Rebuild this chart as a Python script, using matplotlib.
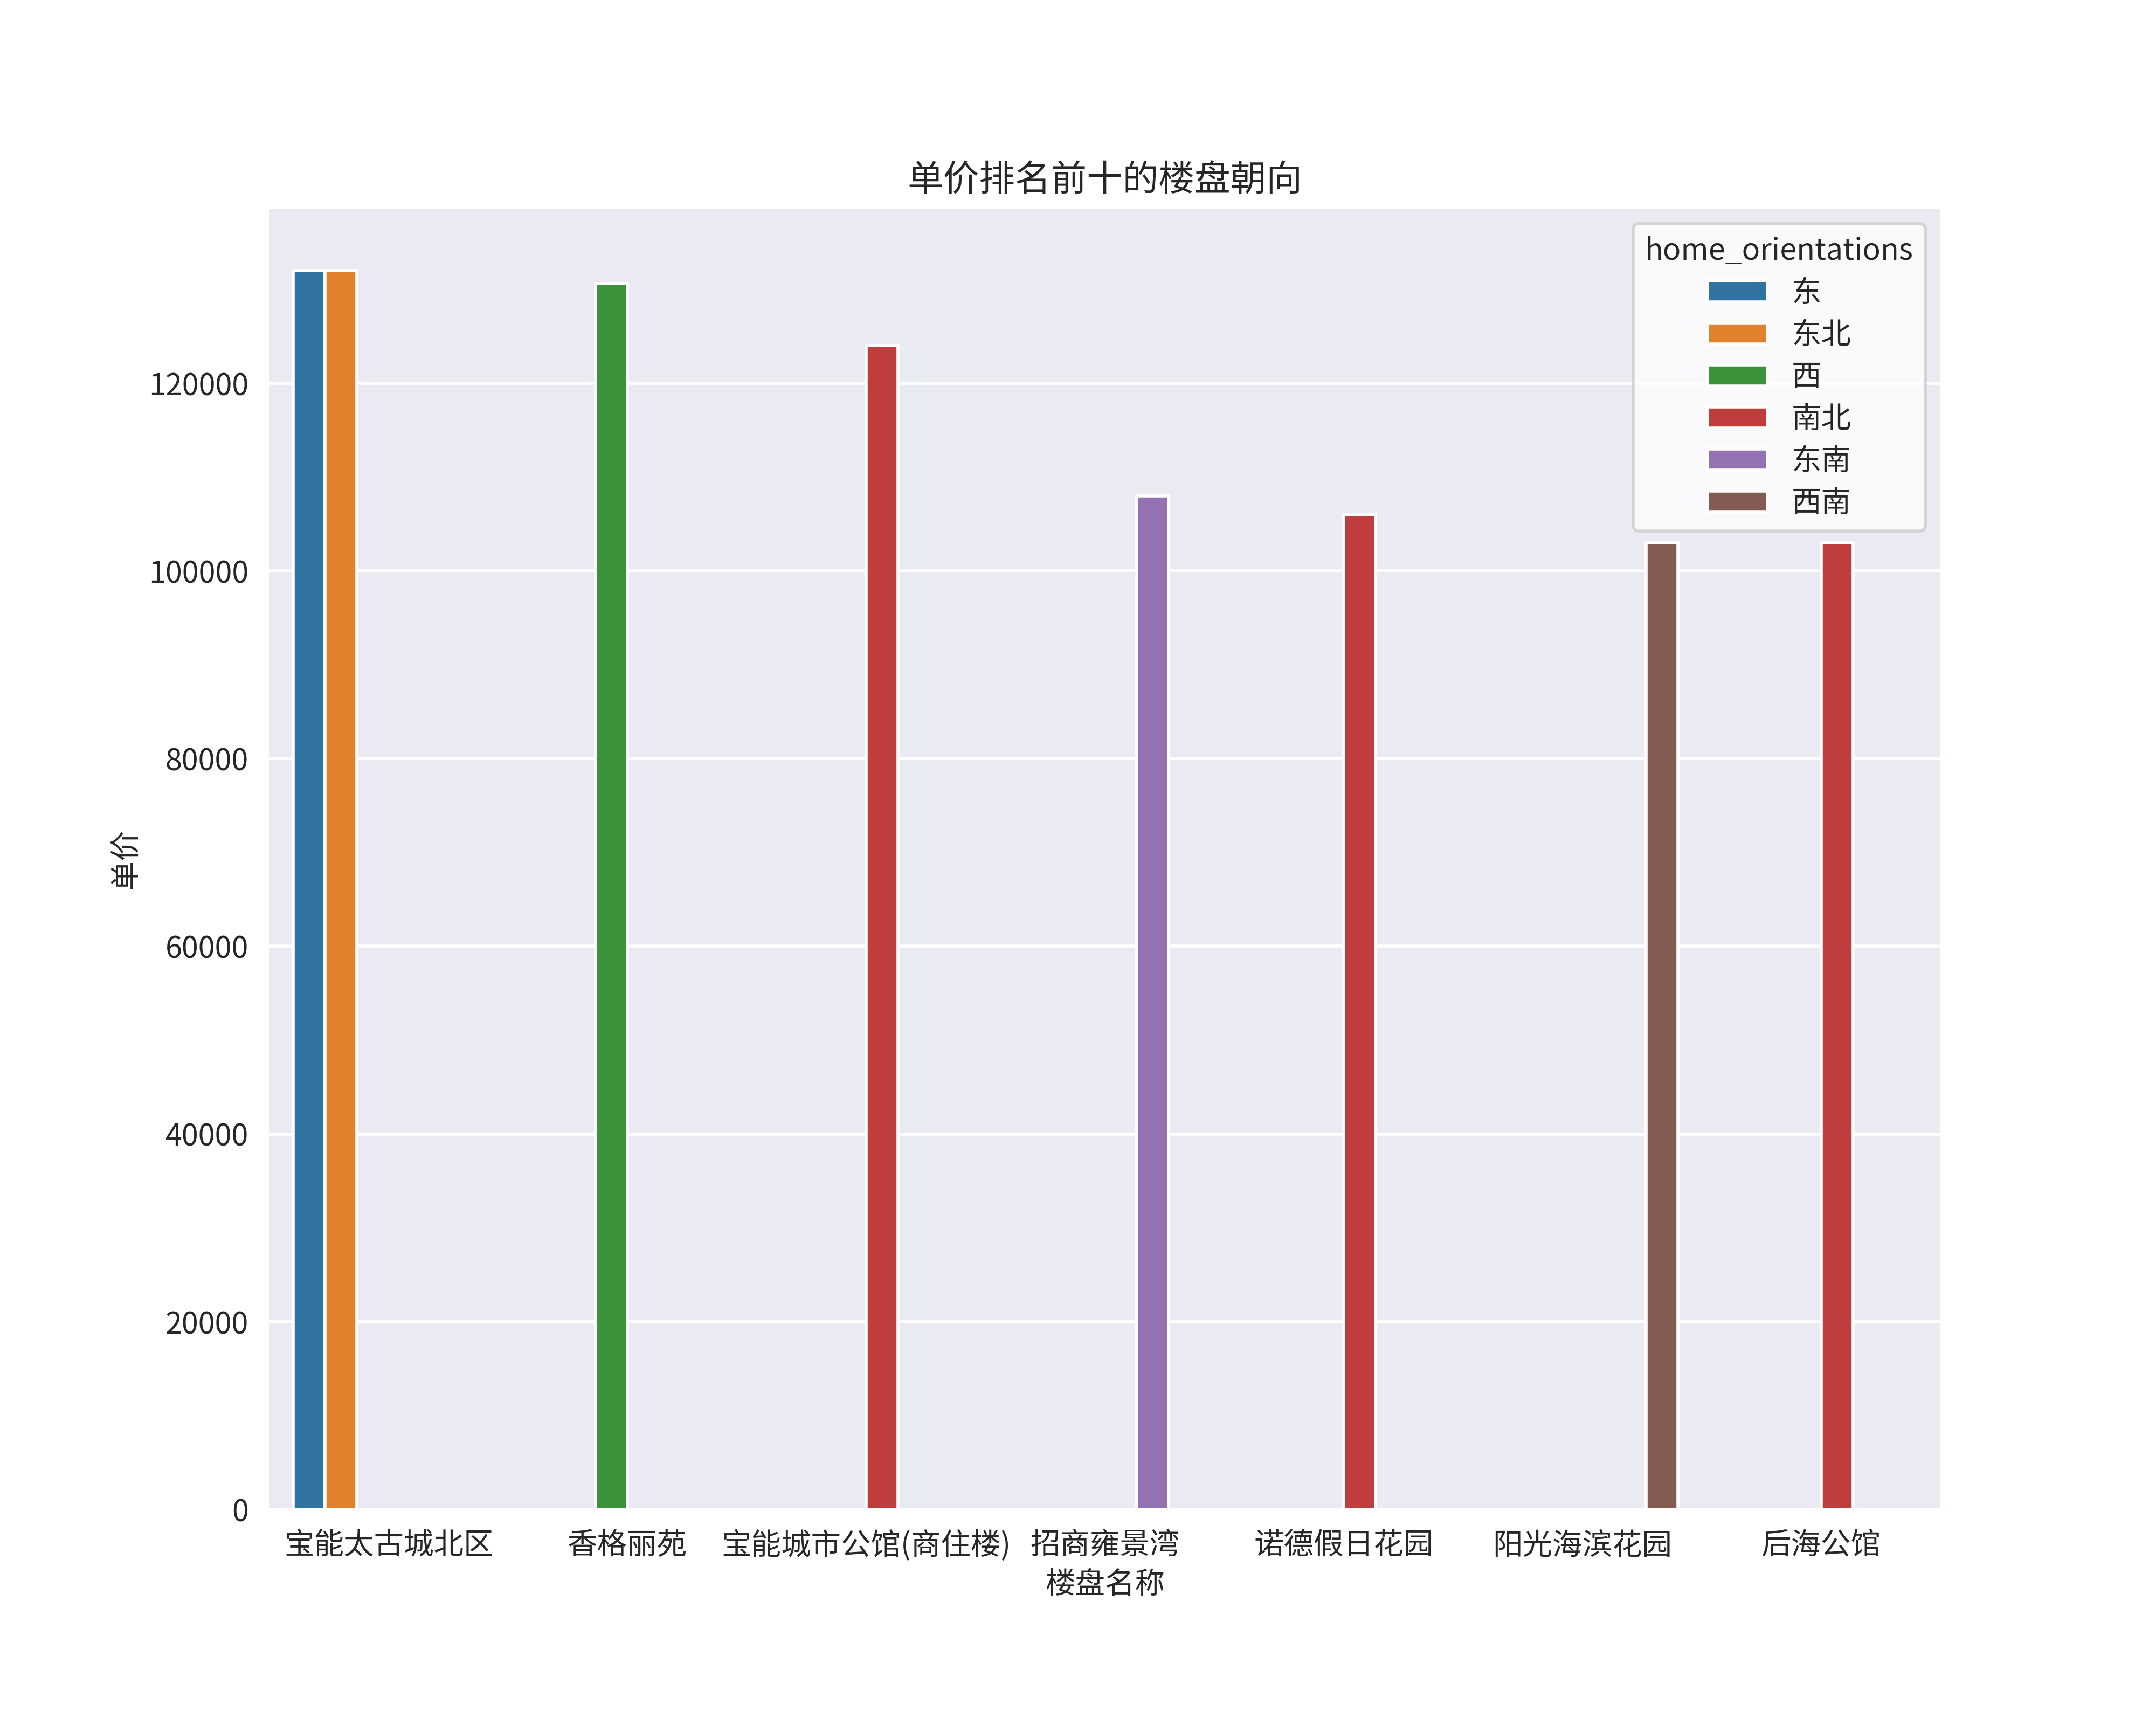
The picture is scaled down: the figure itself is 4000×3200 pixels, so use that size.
import numpy as np
import matplotlib.pyplot as plt
from matplotlib.patches import Patch

plt.rcParams['font.family'] = ['Noto Sans CJK SC', 'DejaVu Sans']
plt.rcParams['axes.unicode_minus'] = False

# data
names = ['宝能太古城北区', '香格丽苑', '宝能城市公馆(商住楼)', '招商雍景湾',
         '诺德假日花园', '阳光海滨花园', '后海公馆']
orientations = ['东', '东北', '西', '南北', '东南', '西南']
bar_name = ['宝能太古城北区', '宝能太古城北区', '香格丽苑', '宝能城市公馆(商住楼)',
            '招商雍景湾', '诺德假日花园', '阳光海滨花园', '后海公馆']
bar_orient = ['东', '东北', '西', '南北', '东南', '南北', '西南', '南北']
bar_price = [132000, 132000, 130600, 124000, 108000, 106000, 103000, 103000]

colors = ['#3274A1', '#E1812C', '#3A923A', '#C03D3E', '#9372B2', '#845B53']
text_c = '#262626'

fig, ax = plt.subplots(figsize=(10, 8), dpi=400)
fig.subplots_adjust(left=0.125, right=0.9, top=0.879, bottom=0.125)
ax.set_facecolor('#EAEAF2')
for s in ax.spines.values():
    s.set_visible(False)
ax.grid(axis='y', color='white', linewidth=1)
ax.set_axisbelow(True)

n_hue = len(orientations)
w = 0.8 / n_hue
for nm, ori, val in zip(bar_name, bar_orient, bar_price):
    i = names.index(nm)
    j = orientations.index(ori)
    xpos = i - 0.4 + (j + 0.5) * w
    ax.bar(xpos, val, width=w, color=colors[j], edgecolor='white', linewidth=1)

ax.set_xticks(range(len(names)))
ax.set_xticklabels(names)
ax.set_xlim(-0.5, len(names) - 0.5)
ax.tick_params(axis='both', length=0, colors=text_c, labelsize=10, pad=7)
ax.set_xlabel('楼盘名称', color=text_c, fontsize=10, labelpad=2.5)
ax.set_ylabel('单价', color=text_c, fontsize=10, labelpad=2.5)
ax.set_title('单价排名前十的楼盘朝向', color=text_c, fontsize=12)

handles = [Patch(facecolor=c, edgecolor='white', label=o) for c, o in zip(colors, orientations)]
leg = ax.legend(handles=handles, title='home_orientations', loc='upper right',
                fontsize=10, title_fontsize=10, labelspacing=0.37)
for t in leg.get_texts():
    t.set_color(text_c)
leg.get_title().set_color(text_c)

plt.savefig('out.png', dpi=400)
